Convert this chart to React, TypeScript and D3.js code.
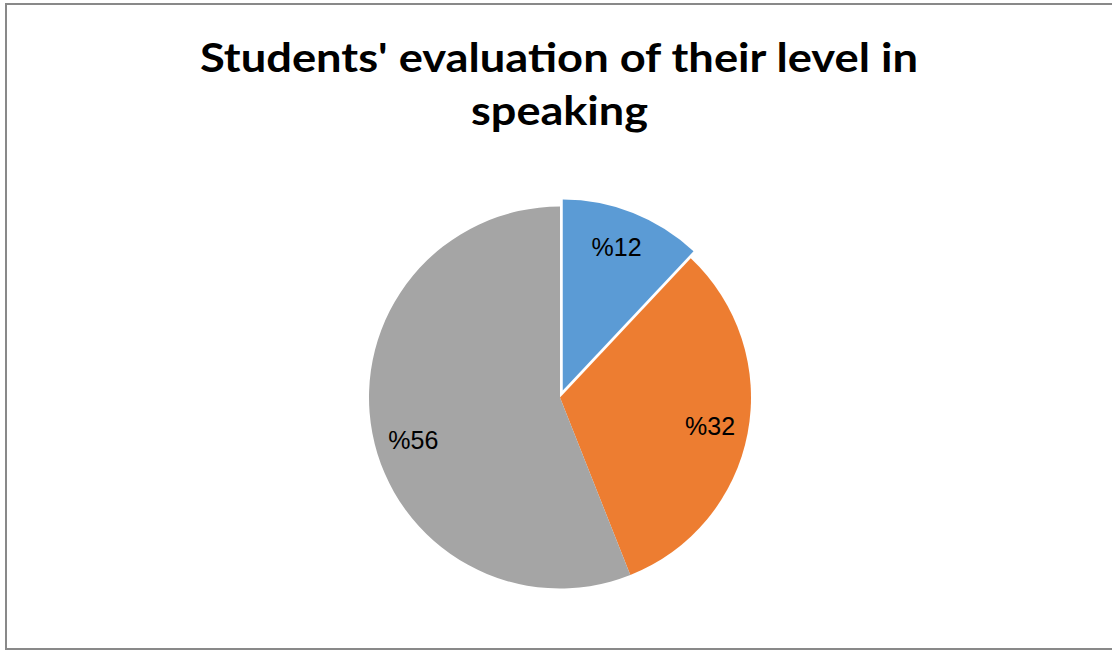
import React from "react";
import * as d3 from "d3";

const categories = ["A", "B", "C"];
const values = [12, 32, 56];
const labels = ["%12", "%32", "%56"];
const colors = ["#5B9BD5", "#ED7D31", "#A5A5A5"];
const titleLines = ["Students' evaluation of their level in", "speaking"];

const W = 1112;
const H = 651;
const cx = 560;
const cy = 397.5;
const R = 191;
const explode = [7.5, 0, 0];
// label placement tweaks (style): angular shift in degrees, radius fraction
const labelShift = [-1, 0, -5.5];
const labelRad = [0.8, 0.8, 0.8];

export default function App() {
  const pie = d3.pie<number>().sort(null).value((d) => d)(values);
  const arc = d3.arc<d3.PieArcDatum<number>>().innerRadius(0).outerRadius(R);

  return (
    <svg width={W} height={H} style={{ position: "absolute", left: 0, top: 0, background: "#fff" }}>
      <rect x={6} y={4} width={W} height={645} fill="#fff" stroke="#898989" strokeWidth={2} />
      <g fontFamily="Lato, 'Open Sans', sans-serif" fontWeight={700} fill="#000" textAnchor="middle">
        <text x={559} y={72} fontSize={40} textLength={718} lengthAdjust="spacingAndGlyphs">{titleLines[0]}</text>
        <text x={559.5} y={125} fontSize={40} textLength={177} lengthAdjust="spacingAndGlyphs">{titleLines[1]}</text>
      </g>
      <g transform={`translate(${cx},${cy})`}>
        {pie.map((p, i) => {
          const mid = (p.startAngle + p.endAngle) / 2;
          const dx = Math.sin(mid) * explode[i];
          const dy = -Math.cos(mid) * explode[i];
          const la = mid + (labelShift[i] * Math.PI) / 180;
          const lr = R * labelRad[i];
          const lx = Math.sin(la) * lr;
          const ly = -Math.cos(la) * lr;
          return (
            <g key={categories[i]} transform={`translate(${dx},${dy})`}>
              <path d={arc(p) || ""} fill={colors[i]} />
              <text
                x={lx}
                y={ly}
                dy="0.35em"
                textAnchor="middle"
                fontFamily="'Liberation Sans', Arial, sans-serif"
                fontSize={25}
                fill="#000"
              >
                {labels[i]}
              </text>
            </g>
          );
        })}
      </g>
    </svg>
  );
}
